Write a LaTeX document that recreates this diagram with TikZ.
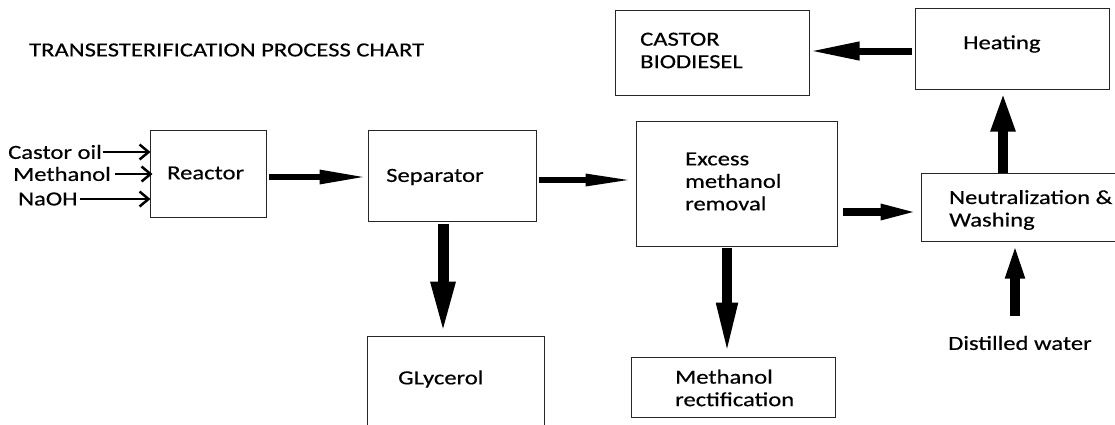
\documentclass[tikz,border=0pt]{standalone}
\usepackage{fontspec}
\setmainfont{Carlito}[FakeStretch=1.23,FakeBold=0.4]
\usetikzlibrary{arrows.meta,calc}
\begin{document}
\begin{tikzpicture}[x=1pt,y=-1pt,
  every node/.style={font=\fontsize{20}{22.5}\selectfont},
  box/.style={draw=black!85,line width=1pt,inner sep=0pt,fill=white},
  lbl/.style={anchor=west,inner sep=0pt,align=left},
  thin/.style={line width=2.5pt,-{Straight Barb[length=9pt,width=15pt,line width=2.5pt]}},
  harrow/.style={line width=6pt,-{Triangle[length=48pt,width=13pt]}},
  varrow/.style={line width=11pt,-{Triangle[length=54pt,width=22pt]}}
]
\useasboundingbox (0,0) rectangle (1115,424);
\clip (0,0) rectangle (1115,424);

% boxes
\node[box,minimum width=116pt,minimum height=87pt] (reactor) at (208,173.5) {};
\node[box,minimum width=168pt,minimum height=91pt] (separator) at (452,175.5) {};
\node[box,minimum width=201pt,minimum height=125pt] (excess) at (736.5,183.5) {};
\node[box,minimum width=194pt,minimum height=85pt] (biodiesel) at (712,52.5) {};
\node[box,minimum width=194pt,minimum height=81pt] (heating) at (1012,48.5) {};
\node[box,minimum width=199pt,minimum height=68pt] (neutral) at (1020.5,207) {};
\node[box,minimum width=177pt,minimum height=100pt] (glycerol) at (455.5,386) {};
\node[box,minimum width=204pt,minimum height=60pt] (methrect) at (733,387) {};

% texts
\node[lbl] (title) at (29,50) {TRANSESTERIFICATION PROCESS CHART};
\node[lbl] (castor) at (8,152) {Castor oil};
\node[lbl] (methanol) at (13,174) {Methanol};
\node[lbl] (naoh) at (18,199) {NaOH};
\node[lbl] (treactor) at (167,173) {Reactor};
\node[lbl] (tseparator) at (386,177) {Separator};
\node[lbl] (texcess) at (685,181.5) {Excess\\methanol\\removal};
\node[lbl] (tbiodiesel) at (640,50.5) {CASTOR\\BIODIESEL};
\node[lbl] (theating) at (963,44) {Heating};
\node[lbl] (tneutral) at (949,210) {Neutralization \&\\Washing};
\node[lbl] (water) at (948,343) {Distilled water};
\node[lbl] (tglycerol) at (398,379) {GLycerol};
\node[lbl] (tmethrect) at (675,388) {Methanol\\rectification};

% input arrows
\draw[thin] ($(castor.east)+(1,0)$) -- ($(castor.east -| reactor.west)+(1,0)$);
\draw[thin] ($(methanol.east)+(4,0)$) -- ($(methanol.east -| reactor.west)+(3,0)$);
\draw[thin] ($(naoh.east)+(2,0)$) -- ($(naoh.east -| reactor.west)+(1,0)$);

% process arrows
\coordinate (a1) at ($(reactor.east)+(2,3.5)$);
\draw[harrow] (a1) -- (a1 -| separator.west);
\coordinate (a2) at ($(separator.east)+(2,4.5)$);
\draw[harrow,-{Triangle[length=50pt,width=11pt]}] (a2) -- (a2 -| excess.west);
\coordinate (a3) at ($(excess.east)+(5,28.5)$);
\draw[line width=8pt,-{Triangle[length=40pt,width=14pt]}] (a3) -- (a3 -| neutral.west);
\coordinate (a4) at ($(neutral.north)+(-17.5,0)$);
\draw[line width=10pt,-{Triangle[length=40pt,width=22pt]}] (a4) -- ($(a4 |- heating.south)+(0,2)$);
\coordinate (a5) at ($(heating.west)+(-3,2.5)$);
\draw[line width=7pt,-{Triangle[length=50pt,width=17pt]}] (a5) -- (a5 -| biodiesel.east);
\coordinate (a6) at ($(separator.south)+(-9,2)$);
\draw[varrow] (a6) -- (a6 |- glycerol.north);
\coordinate (a7) at ($(excess.south)+(-9.5,1)$);
\draw[line width=10pt,-{Triangle[length=54pt,width=19pt]}] (a7) -- (a7 |- methrect.north);
\coordinate (dw) at (1015,316);
\draw[line width=10pt,-{Triangle[length=36pt,width=17pt]}] (dw) -- ($(dw |- neutral.south)+(0,1)$);
\end{tikzpicture}
\end{document}
